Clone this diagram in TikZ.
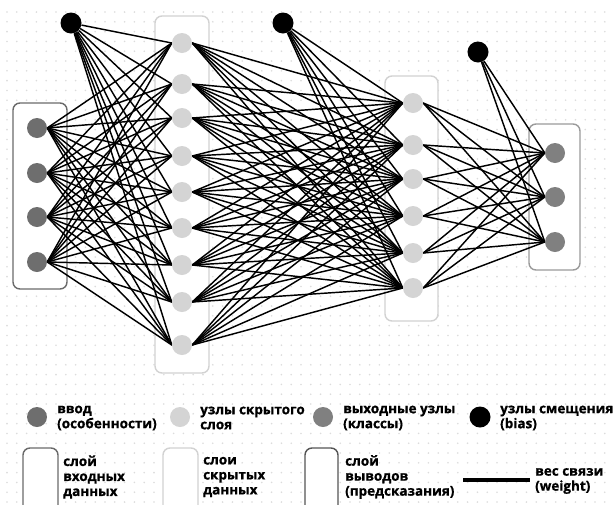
\documentclass[tikz,border=0pt]{standalone}
\usepackage{fontspec}
\setmainfont{Open Sans}[BoldFeatures={FakeBold=0.8}]
\definecolor{ingray}{HTML}{6E6E6E}
\definecolor{hidgray}{HTML}{D4D4D4}
\definecolor{outgray}{HTML}{808080}
\definecolor{inbox}{HTML}{6A6A6A}
\definecolor{hidbox}{HTML}{D2D2D2}
\definecolor{outbox}{HTML}{9A9A9A}
\definecolor{dotgray}{HTML}{DCDCDC}
\pgfdeclarelayer{gridlayer}
\pgfdeclarelayer{edgelayer}
\pgfsetlayers{gridlayer,edgelayer,main}
\begin{document}
\begin{tikzpicture}[x=1pt,y=-1pt,
  edge/.style={line width=1.45pt, black},
  neuron/.style={circle, minimum size=20pt, inner sep=0pt},
  innode/.style={neuron, fill=ingray},
  hidnode/.style={neuron, fill=hidgray},
  outnode/.style={neuron, fill=outgray},
  biasnode/.style={neuron, fill=black, minimum size=21pt},
  layerbox/.style={rounded corners=7pt, fill=white, line width=1.4pt},
  legtext/.style={anchor=west, align=left, inner sep=0pt, font=\bfseries\fontsize{13.5}{15}\selectfont},
]
\useasboundingbox (0,0) rectangle (613,504);
\clip (0,0) rectangle (613,504);
\begin{pgfonlayer}{gridlayer}
\fill[white] (0,0) rectangle (613,504);
\foreach \i in {0,...,62} \foreach \j in {0,...,50} \fill[dotgray] (7+9.8*\i, 12+9.8*\j) circle (0.9pt);
\draw[layerbox, draw=inbox] (13,103) rectangle (67,289);
\draw[layerbox, draw=hidbox] (155,16) rectangle (209,373);
\draw[layerbox, draw=hidbox] (385,76) rectangle (438,321);
\draw[layerbox, draw=outbox] (529,124) rectangle (580,270);
\end{pgfonlayer}
% nodes
\foreach \k/\y in {1/128,2/173,3/217,4/262} \node[innode] (i\k) at (37,\y) {};
\foreach \k/\y in {1/43,2/84,3/118,4/156,5/192,6/228,7/265,8/302,9/345} \node[hidnode] (h\k) at (182,\y) {};
\foreach \k/\y in {1/103,2/145,3/179,4/216,5/253,6/288} \node[hidnode] (g\k) at (413,\y) {};
\foreach \k/\y in {1/153,2/197,3/242} \node[outnode] (o\k) at (555,\y) {};
\node[biasnode] (b1) at (71,23) {};
\node[biasnode] (b2) at (283,23) {};
\node[biasnode] (b3) at (478,52) {};
\begin{pgfonlayer}{edgelayer}
\foreach \a in {1,...,4} \foreach \b in {1,...,9} \draw[edge] (i\a.east) -- (h\b.west);
\foreach \b in {1,...,9} \draw[edge] (b1) -- (h\b.west);
\foreach \a in {1,...,9} \foreach \b in {1,...,6} \draw[edge] (h\a.east) -- (g\b.west);
\foreach \b in {1,...,6} \draw[edge] (b2) -- (g\b.west);
\foreach \a in {1,...,6} \foreach \b in {1,...,3} \draw[edge] (g\a.east) -- (o\b.west);
\foreach \b in {1,...,3} \draw[edge] (b3) -- (o\b.west);
\end{pgfonlayer}
% legend row 1
\node[innode] (l1) at (37,417) {};
\node[legtext] (t1) at (57,418) {ввод\\(особенности)};
\node[hidnode] (l2) at (180,417) {};
\node[legtext] (t2) at (200,418) {узлы скрытого\\слоя};
\node[outnode] (l3) at (323,417) {};
\node[legtext] (t3) at (343,418) {выходные узлы\\(классы)};
\node[biasnode] (l4) at (480,417) {};
\node[legtext] (t4) at (500,418) {узлы смещения\\(bias)};
% legend row 2
\draw[layerbox, draw=inbox] (23,448) rectangle (58,516);
\node[legtext] (t5) at (63,477) {слой\\входных\\данных};
\draw[layerbox, draw=hidbox] (163,448) rectangle (198,516);
\node[legtext] (t6) at (203,477) {слои\\скрытых\\данных};
\draw[layerbox, draw=inbox!80!black] (305,448) rectangle (338,516);
\node[legtext] (t7) at (345,477) {слой\\выводов\\(предсказания)};
\coordinate (w1) at (463,480);
\coordinate (w2) at (530,480);
\draw[line width=4.5pt] (w1) -- (w2);
\node[legtext] (t8) at (535,481) {вес связи\\(weight)};
\end{tikzpicture}
\end{document}
